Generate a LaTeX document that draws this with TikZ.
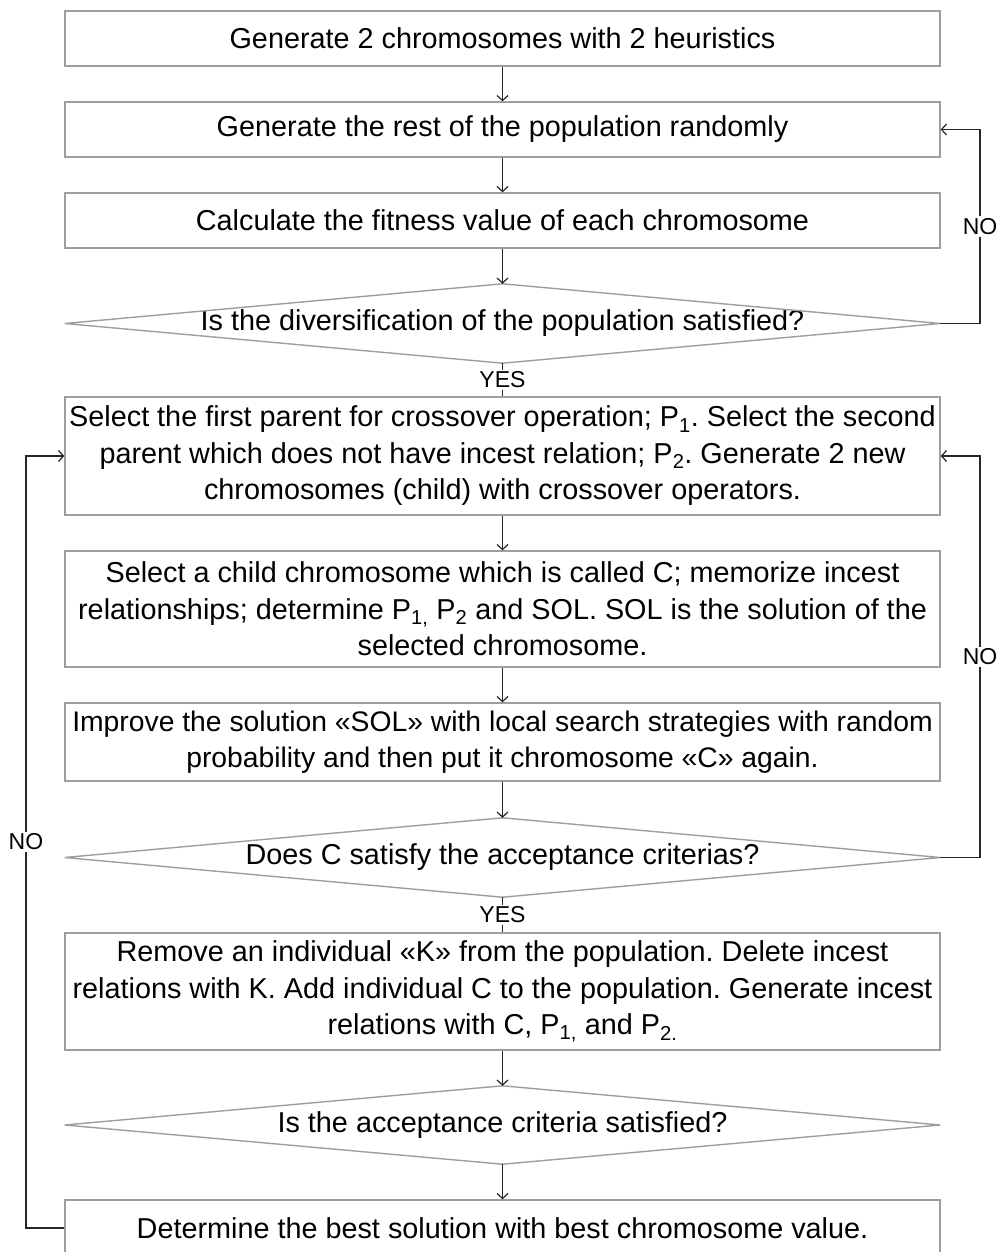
\documentclass[tikz,border=0pt]{standalone}
\usepackage{fontspec}
\setmainfont{Liberation Sans}
\usetikzlibrary{arrows.meta}
\frenchspacing
\begin{document}
\begin{tikzpicture}[x=1pt,y=-1pt,
  every node/.style={font=\fontsize{28.8}{36.5}\selectfont, text=black},
  pbox/.style={draw=black!38, line width=1.4pt, fill=white, minimum width=875pt, inner sep=0pt, align=center},
  dbox/.style={minimum width=875pt, inner sep=0pt, align=center},
  dshape/.style={draw=black!38, line width=1.4pt},
  conn/.style={draw=black!85, line width=1.2pt},
  arr/.style={conn, -{Straight Barb[length=5pt,width=11pt,line width=1.2pt]}},
  lab/.style={fill=white, inner sep=2pt, font=\fontsize{23}{27}\selectfont}
]
\clip (0,0) rectangle (998,1252);
\fill[white] (0,0) rectangle (998,1252);

\node[pbox, minimum height=55pt] (b1) at (502.5,38.5) {Generate 2 chromosomes with 2 heuristics};
\node[pbox, minimum height=55pt] (b2) at (502.5,129.5) {Generate the rest of the population randomly};
\node[pbox, minimum height=55pt] (b3) at (502.5,220.5) {Calculate the fitness value of each chromosome};
\node[dbox, minimum height=79pt] (d1) at (502.5,323.5) {Is the diversification of the population satisfied?};
\node[pbox, minimum height=118pt] (b4) at (502.5,456) {Select the first parent for crossover operation; P\textsubscript{1}. Select the second\\parent which does not have incest relation; P\textsubscript{2}. Generate 2 new\\chromosomes (child) with crossover operators.};
\node[pbox, minimum height=116pt] (b5) at (502.5,609) {Select a child chromosome which is called C; memorize incest\\relationships; determine P\textsubscript{1,} P\textsubscript{2} and SOL. SOL is the solution of the\\selected chromosome.};
\node[pbox, minimum height=78pt, font=\fontsize{28.3}{36.5}\selectfont] (b6) at (502.5,742) {Improve the solution «SOL» with local search strategies with random\\probability and then put it chromosome «C» again.};
\node[dbox, minimum height=79pt] (d2) at (502.5,857.5) {Does C satisfy the acceptance criterias?};
\node[pbox, minimum height=117pt] (b7) at (502.5,991.5) {Remove an individual «K» from the population. Delete incest\\relations with K. Add individual C to the population. Generate incest\\relations with C, P\textsubscript{1,} and P\textsubscript{2.}};
\node[dbox, minimum height=78pt] (d3) at (502.5,1125) {Is the acceptance criteria satisfied?};
\node[pbox, minimum height=56pt] (b8) at (502.5,1228) {Determine the best solution with best chromosome value.};

\foreach \d in {d1,d2,d3}
  \draw[dshape] (\d.north) -- (\d.east) -- (\d.south) -- (\d.west) -- cycle;

\coordinate (r1a) at (980,323.5);
\coordinate (r1b) at (980,129.5);
\coordinate (r2a) at (980,857.5);
\coordinate (r2b) at (980,456);
\coordinate (l1a) at (26,1228);
\coordinate (l1b) at (26,456);

\draw[arr] (b1.south) -- (b2.north);
\draw[arr] (b2.south) -- (b3.north);
\draw[arr] (b3.south) -- (d1.north);
\draw[conn] (d1.south) -- node[lab] {YES} (b4.north);
\draw[arr] (b4.south) -- (b5.north);
\draw[arr] (b5.south) -- (b6.north);
\draw[arr] (b6.south) -- (d2.north);
\draw[conn] (d2.south) -- node[lab] {YES} (b7.north);
\draw[arr] (b7.south) -- (d3.north);
\draw[arr] (d3.south) -- (b8.north);

\draw[arr] (d1.east) -- (r1a) -- node[lab, pos=0.5] {NO} (r1b) -- (b2.east);
\draw[arr] (d2.east) -- (r2a) -- node[lab, pos=0.5] {NO} (r2b) -- (b4.east);
\draw[arr] (b8.west) -- (l1a) -- node[lab, pos=0.5] {NO} (l1b) -- (b4.west);
\end{tikzpicture}
\end{document}
